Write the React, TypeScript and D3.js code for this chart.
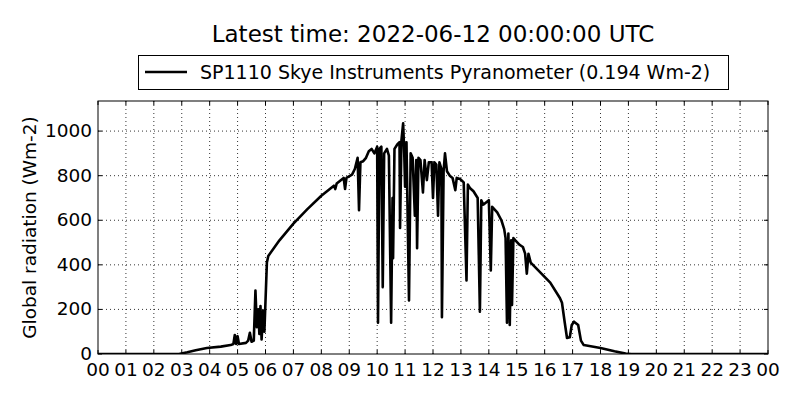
import * as d3 from "d3";

// hours since 00 UTC and global radiation (Wm-2)
const hours = [
  0, 1, 2, 2.9, 3.2, 3.5, 3.9, 4.4, 4.75, 4.85, 4.9, 4.95, 5.0, 5.05, 5.3, 5.38,
  5.44, 5.5, 5.58, 5.64, 5.69, 5.74, 5.78, 5.82, 5.86, 5.92, 5.96, 6.05, 6.1, 6.5,
  7.0, 7.5, 8.0, 8.45, 8.5, 8.55, 8.8, 8.85, 8.9, 9.1, 9.2, 9.3, 9.35, 9.4, 9.5,
  9.6, 9.7, 9.8, 9.9, 10.0, 10.03, 10.08, 10.15, 10.2, 10.25, 10.35, 10.42, 10.5,
  10.55, 10.57, 10.62, 10.72, 10.8, 10.82, 10.87, 10.93, 10.97, 11.0, 11.05,
  11.14, 11.2, 11.27, 11.35, 11.4, 11.43, 11.48, 11.55, 11.64, 11.7, 11.78, 11.85,
  11.95, 12.0, 12.05, 12.12, 12.18, 12.23, 12.3, 12.32, 12.38, 12.43, 12.5, 12.6,
  12.7, 12.8, 12.85, 12.97, 13.1, 13.2, 13.25, 13.32, 13.45, 13.6, 13.68, 13.73,
  13.8, 14.0, 14.07, 14.12, 14.3, 14.45, 14.55, 14.6, 14.65, 14.7, 14.75, 14.8,
  14.83, 14.88, 14.95, 15.1, 15.22, 15.3, 15.36, 15.42, 15.5, 16.2, 16.55, 16.62,
  16.72, 16.8, 16.9, 16.97, 17.05, 17.2, 17.3, 17.4, 18.0, 18.5, 18.9, 19.1, 24,
];
const radiation = [
  0, 0, 0, 0, 8, 17, 27, 33, 40, 45, 85, 45, 80, 45, 50, 60,
  95, 55, 60, 285, 120, 200, 90, 215, 65, 195, 100, 410, 440, 510,
  585, 650, 710, 755, 740, 765, 790, 740, 790, 805, 830, 880, 645, 860, 865,
  880, 910, 920, 900, 930, 140, 920, 930, 300, 900, 920, 890, 140,
  700, 430, 920, 940, 950, 565, 960, 1035, 900, 750, 950,
  240, 900, 880, 620, 870, 475, 880, 870, 725, 870, 780, 860,
  860, 700, 860, 850, 620, 860, 830, 165, 820, 900, 820, 800,
  790, 735, 790, 785, 770, 330, 760, 745, 730, 700, 190, 690,
  670, 690, 375, 660, 635, 600, 560, 520, 140, 540, 130, 510,
  220, 520, 510, 490, 480, 450, 360, 450, 410, 320, 250, 230,
  140, 72, 75, 130, 145, 130, 60, 40, 27, 12, 2, 0, 0,
];
const yTicks = [0, 200, 400, 600, 800, 1000];

const title = "Latest time: 2022-06-12 00:00:00 UTC";
const legendLabel = "SP1110 Skye Instruments Pyranometer (0.194 Wm-2)";
const yLabel = "Global radiation (Wm-2)";

const W = 800;
const H = 400;
const m = { left: 98, right: 32, top: 101, bottom: 46 };
const font = "DejaVu Sans, sans-serif";

export default function App() {
  const x = d3.scaleLinear().domain([0, 24]).range([m.left, W - m.right]);
  const y = d3.scaleLinear().domain([0, 1135]).range([H - m.bottom, m.top]);
  const pts = hours.map((h, i) => [h, radiation[i]] as [number, number]);
  const line = d3
    .line<[number, number]>()
    .x((d) => x(d[0]))
    .y((d) => y(d[1]));
  const xTicks = d3.range(0, 25);
  const x0 = m.left;
  const x1 = W - m.right;
  const y0 = H - m.bottom;
  const y1 = m.top;

  return (
    <svg
      width={W}
      height={H}
      style={{ position: "absolute", left: 0, top: 0, background: "#fff" }}
      fontFamily={font}
    >
      <defs>
        <clipPath id="plot">
          <rect x={x0} y={y1} width={x1 - x0} height={y0 - y1} />
        </clipPath>
      </defs>

      {/* grid */}
      {xTicks.slice(1, -1).map((t) => (
        <line key={"gx" + t} x1={x(t)} x2={x(t)} y1={y0} y2={y1}
          stroke="#000" strokeWidth={0.8} strokeDasharray="1,3" />
      ))}
      {yTicks.slice(1).map((t) => (
        <line key={"gy" + t} x1={x0} x2={x1} y1={y(t)} y2={y(t)}
          stroke="#000" strokeWidth={0.8} strokeDasharray="1,3" />
      ))}

      <path d={line(pts)!} fill="none" stroke="#000" strokeWidth={2.6}
        strokeLinejoin="round" clipPath="url(#plot)" />

      {/* ticks, inside on all four sides */}
      {xTicks.map((t) => (
        <g key={"tx" + t}>
          <line x1={x(t)} x2={x(t)} y1={y0} y2={y0 - 4} stroke="#000" />
          <line x1={x(t)} x2={x(t)} y1={y1} y2={y1 + 4} stroke="#000" />
          <text x={x(t)} y={y0 + 22} fontSize={18.5} textAnchor="middle">
            {String(t % 24).padStart(2, "0")}
          </text>
        </g>
      ))}
      {yTicks.map((t) => (
        <g key={"ty" + t}>
          <line x1={x0} x2={x0 + 4} y1={y(t)} y2={y(t)} stroke="#000" />
          <line x1={x1} x2={x1 - 4} y1={y(t)} y2={y(t)} stroke="#000" />
          <text x={x0 - 6} y={y(t) + 6} fontSize={18.5} textAnchor="end">
            {t}
          </text>
        </g>
      ))}

      <rect x={x0} y={y1} width={x1 - x0} height={y0 - y1} fill="none" stroke="#000" strokeWidth={1} />

      <text transform={`translate(36,${(y0 + y1) / 2}) rotate(-90)`} fontSize={18.5} textAnchor="middle">
        {yLabel}
      </text>

      <text x={(x0 + x1) / 2} y={42} fontSize={23} textAnchor="middle">
        {title}
      </text>

      {/* legend */}
      <rect x={138.5} y={55.5} width={590} height={34} fill="#fff" stroke="#000" strokeWidth={1} />
      <line x1={145} x2={187} y1={72} y2={72} stroke="#000" strokeWidth={2.6} />
      <text x={200} y={78.5} fontSize={19}>
        {legendLabel}
      </text>
    </svg>
  );
}
